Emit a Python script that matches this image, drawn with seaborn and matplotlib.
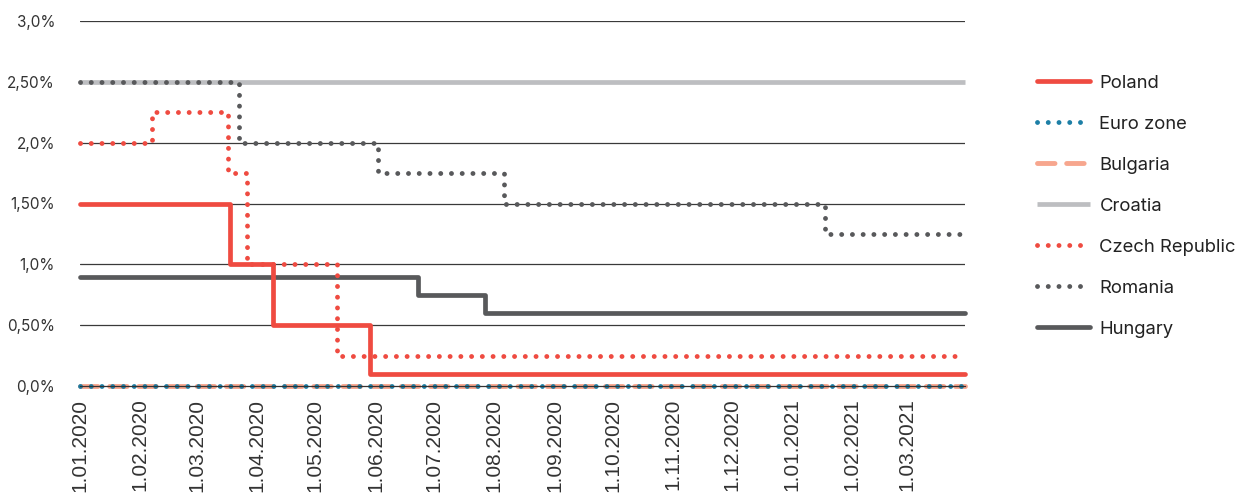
import matplotlib.pyplot as plt
import pandas as pd
import seaborn as sns

# ------------------------------------------------
# Data: policy rate changes (date of change, new rate in %)
# ------------------------------------------------
end_date = "2021-03-31"

poland_dates = ["2020-01-01", "2020-03-18", "2020-04-09", "2020-05-29"]
poland_rates = [1.50, 1.00, 0.50, 0.10]

euro_dates = ["2020-01-01"]
euro_rates = [0.00]

bulgaria_dates = ["2020-01-01"]
bulgaria_rates = [0.00]

croatia_dates = ["2020-01-01"]
croatia_rates = [2.50]

czech_dates = ["2020-01-01", "2020-02-07", "2020-03-17", "2020-03-27", "2020-05-12"]
czech_rates = [2.00, 2.25, 1.75, 1.00, 0.25]

romania_dates = ["2020-01-01", "2020-03-23", "2020-06-02", "2020-08-06", "2021-01-18"]
romania_rates = [2.50, 2.00, 1.75, 1.50, 1.25]

hungary_dates = ["2020-01-01", "2020-06-23", "2020-07-27"]
hungary_rates = [0.90, 0.75, 0.60]

y_ticks = [0.0, 0.5, 1.0, 1.5, 2.0, 2.5, 3.0]
y_labels = ["0,0%", "0,50%", "1,0%", "1,50%", "2,0%", "2,50%", "3,0%"]


def step_frame(dates, rates):
    # add the end date so the last level runs to the right edge
    d = pd.to_datetime(list(dates) + [end_date])
    return pd.DataFrame({"date": d, "rate": list(rates) + [rates[-1]]})


# ------------------------------------------------
# Styles (draw order: back to front)
# ------------------------------------------------
red = "#EF4B41"
dark = "#58595B"
dots = (0, (0.01, 2.2))
series = [
    ("Croatia", croatia_dates, croatia_rates,
     dict(color="#BDBEC1", lw=3.4, solid_capstyle="butt")),
    ("Hungary", hungary_dates, hungary_rates,
     dict(color=dark, lw=3.4, solid_capstyle="round")),
    ("Poland", poland_dates, poland_rates,
     dict(color=red, lw=3.4, solid_capstyle="round")),
    ("Romania", romania_dates, romania_rates,
     dict(color=dark, lw=3.5, linestyle=dots, dash_capstyle="round")),
    ("Czech Republic", czech_dates, czech_rates,
     dict(color=red, lw=3.5, linestyle=dots, dash_capstyle="round")),
    ("Bulgaria", bulgaria_dates, bulgaria_rates,
     dict(color="#F7A68E", lw=3.5, linestyle=(0, (3.6, 2.4)), dash_capstyle="round")),
    ("Euro zone", euro_dates, euro_rates,
     dict(color="#1D7FA6", lw=3.5, linestyle=dots, dash_capstyle="round")),
]
legend_order = ["Poland", "Euro zone", "Bulgaria", "Croatia",
                "Czech Republic", "Romania", "Hungary"]

# ------------------------------------------------
# Draw
# ------------------------------------------------
sns.set_style("white")
plt.rcParams["font.family"] = ["Inter", "DejaVu Sans"]

fig = plt.figure(figsize=(12.42, 4.97), dpi=100)
ax = fig.add_axes([80 / 1242, 1 - 386 / 497, 885 / 1242, 365 / 497])

for y in y_ticks[1:]:
    ax.axhline(y, color="#3a3a3a", lw=0.9, zorder=0)

for name, dates, rates, style in series:
    df = step_frame(dates, rates)
    sns.lineplot(data=df, x="date", y="rate", ax=ax, label=name,
                 drawstyle="steps-post", clip_on=False, **style)

ax.set_xlim(pd.Timestamp("2020-01-01"), pd.Timestamp(end_date))
ax.set_ylim(0, 3)

months = pd.date_range("2020-01-01", "2021-03-01", freq="MS")
ax.set_xticks(list(months) + [pd.Timestamp(end_date)])
ax.set_xticklabels([m.strftime("%-d.%m.%Y") for m in months] + [""],
                   rotation=90, fontsize=15, family="Liberation Sans",
                   color="#333333", va="top")
ax.tick_params(axis="x", length=6, width=0.9, color="#333333", pad=3)
ax.tick_params(axis="y", length=0, pad=18)

ax.set_yticks(y_ticks)
ax.set_yticklabels(y_labels, fontsize=11, color="#333333")
ax.set_xlabel("")
ax.set_ylabel("")

for side in ["top", "right", "left"]:
    ax.spines[side].set_visible(False)
ax.spines["bottom"].set_color("#333333")
ax.spines["bottom"].set_linewidth(0.9)

handles, labels = ax.get_legend_handles_labels()
lookup = dict(zip(labels, handles))
ax.legend([lookup[n] for n in legend_order], legend_order,
          loc="upper left", bbox_to_anchor=(1020 / 1242, 1 - 58 / 497),
          bbox_transform=fig.transFigure, frameon=False, fontsize=13.3,
          handlelength=2.9, handletextpad=0.5, labelspacing=1.3,
          labelcolor="#222222")

fig.savefig("out.png", dpi=100)
